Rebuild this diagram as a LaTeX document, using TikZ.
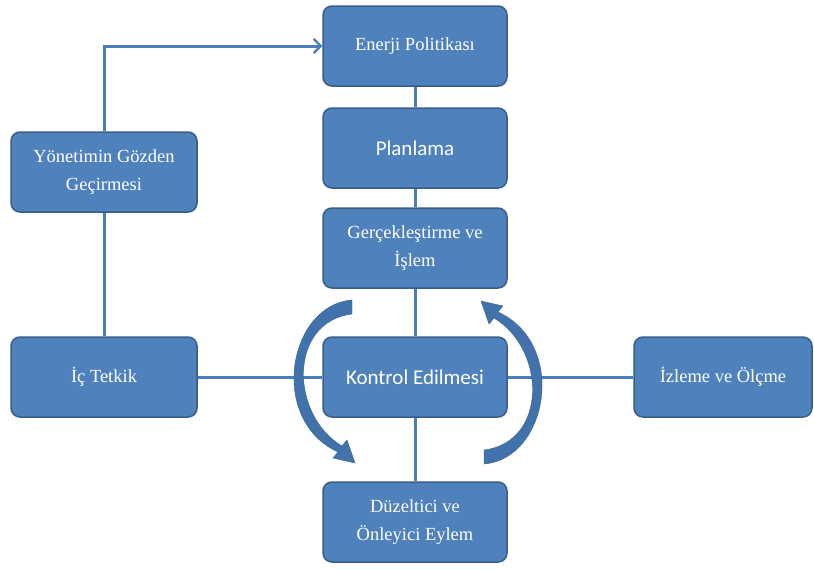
\documentclass[tikz,border=0pt]{standalone}
\usepackage{fontspec}
\setmainfont{Liberation Serif}
\newfontfamily\calib{Carlito}
\usetikzlibrary{arrows.meta}
\definecolor{boxfill}{HTML}{4F81BD}
\definecolor{boxedge}{HTML}{385D8A}
\definecolor{linec}{HTML}{4A7EBB}
\definecolor{arrowc}{HTML}{4272AB}
\tikzset{
  box/.style={draw=boxedge, line width=1.5pt, fill=boxfill, rounded corners=9pt,
    minimum width=184pt, minimum height=80pt, text=white, align=center,
    font=\fontsize{18.5}{28}\selectfont},
  sbox/.style={box, font=\calib\fontsize{21}{24}\selectfont},
  conn/.style={draw=linec, line width=3pt},
  curvearrow/.style={fill=arrowc, draw=arrowc!85!black, line width=0.4pt}
}
\begin{document}
\begin{tikzpicture}[x=1pt,y=-1pt]
\useasboundingbox (0,0) rectangle (814,570);
\node[box] (ep) at (415,46) {Enerji Politikası};
\node[sbox] (pl) at (415,148) {Planlama};
\node[box] (gi) at (415,248) {Gerçekleştirme ve\\İşlem};
\node[sbox] (ke) at (415,377) {Kontrol Edilmesi};
\node[box] (de) at (415,522) {Düzeltici ve\\Önleyici Eylem};
\node[box, minimum width=186pt] (yg) at (104,172) {Yönetimin Gözden\\Geçirmesi};
\node[box, minimum width=186pt] (it) at (104,377) {İç Tetkik};
\node[box, minimum width=178pt] (io) at (723,377) {İzleme ve Ölçme};
\draw[conn] (ep) -- (pl);
\draw[conn] (pl) -- (gi);
\draw[conn] (gi) -- (ke);
\draw[conn] (ke) -- (de);
\draw[conn] (it) -- (ke);
\draw[conn] (ke) -- (io);
\draw[conn] (yg) -- (it);
\draw[conn, -{Straight Barb[length=7pt,width=14pt,line width=2.2pt]}] (yg.north) |- (ep.west);
% curved arrows
\path[curvearrow] (352,300) .. controls (288,305) and (268,420) .. (338,452)
  -- (333,458) -- (355,463) -- (347,440) -- (342,446)
  .. controls (290,415) and (288,322) .. (352,314) -- cycle;
\begin{scope}[rotate around={180:(418,382)}]
\path[curvearrow] (352,300) .. controls (288,305) and (268,420) .. (338,452)
  -- (333,458) -- (355,463) -- (347,440) -- (342,446)
  .. controls (290,415) and (288,322) .. (352,314) -- cycle;
\end{scope}
\end{tikzpicture}
\end{document}
